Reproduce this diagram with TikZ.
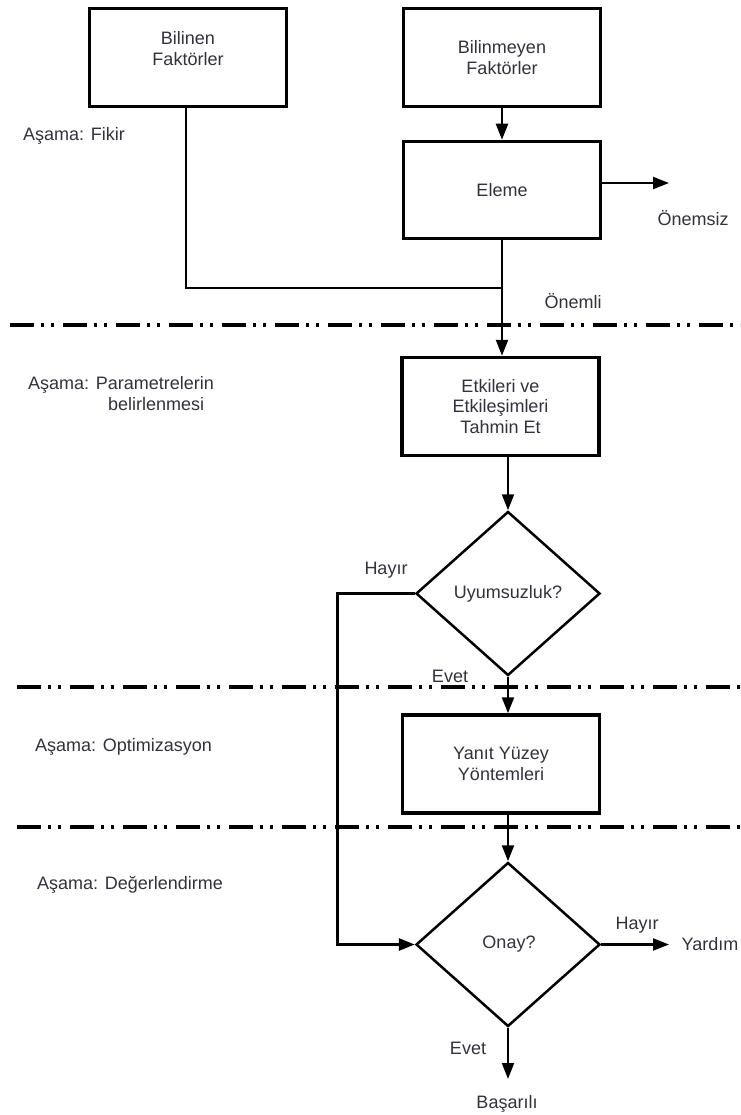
\documentclass[tikz,border=0pt]{standalone}
\usepackage{fontspec}
\setmainfont{Liberation Sans}
\usetikzlibrary{arrows.meta,shapes.geometric}
\definecolor{txtc}{RGB}{50,50,62}
\begin{document}
\begin{tikzpicture}[x=1pt,y=-1pt,
  box/.style={draw,line width=3.5pt,minimum width=197pt,minimum height=98pt,inner sep=0pt,
    text=txtc,font=\fontsize{18}{20.5}\selectfont,align=center},
  dia/.style={draw,diamond,line width=2.5pt,minimum width=184pt,minimum height=164pt,inner sep=0pt},
  txt/.style={text=txtc,font=\fontsize{18}{21}\selectfont,align=center,inner sep=0pt},
  conn/.style={line width=2.2pt},
  arr/.style={conn,-{Triangle[length=16pt,width=12pt]}},
  phase/.style={line width=4pt,dash pattern=on 24pt off 7pt on 3pt off 7pt on 3pt off 9pt}]
\useasboundingbox[fill=white] (0,0) rectangle (740,1115);

% phase separator lines
\draw[phase] (10,325) -- (740,325);
\draw[phase] (17,687) -- (740,687);
\draw[phase] (17,827) -- (740,827);

% boxes
\node[box] (b1) at (188,57.5) {};
\node[txt] (t1) at (188,49) {Bilinen\\Faktörler};
\node[box] (b2) at (502,57.5) {Bilinmeyen\\Faktörler};
\node[box,minimum height=97pt] (el) at (502,190) {Eleme};
\node[box] (b4) at (500.5,406.5) {Etkileri ve\\Etkileşimleri\\Tahmin Et};
\node[box] (b5) at (501,764) {Yanıt Yüzey\\Yöntemleri};

% decisions
\node[dia] (d1) at (508,593.5) {};
\node[txt] (d1t) at (508,593.5) {Uyumsuzluk?};
\node[dia] (d2) at (508,944.5) {};
\node[txt] (d2t) at (509,944.5) {Onay?};

% labels
\node[txt,anchor=west] (pf) at (23,136) {Aşama: Fikir};
\node[txt,anchor=west] (pp1) at (28,385) {Aşama: Parametrelerin};
\node[txt,anchor=west] (pp2) at (108,404) {belirlenmesi};
\node[txt,anchor=west] (po) at (35,747) {Aşama: Optimizasyon};
\node[txt,anchor=west] (pd) at (37,885) {Aşama: Değerlendirme};
\node[txt] (lonemsiz) at (693,218) {Önemsiz};
\node[txt] (lonemli) at (573,301) {Önemli};
\node[txt] (lhayir1) at (386,570) {Hayır};
\node[txt] (levet1) at (450,676) {Evet};
\node[txt] (lhayir2) at (637,925) {Hayır};
\node[txt] (lyardim) at (710,944.5) {Yardım};
\node[txt] (levet2) at (468,1048) {Evet};
\node[txt] (lbasarili) at (507,1104) {Başarılı};

% coordinates
\coordinate (j) at (502,288);
\coordinate (onemsizend) at (669,183);
\coordinate (lp1) at (337,593.5);
\coordinate (lp2) at (337,944.5);
\coordinate (yardimend) at (669,944.5);
\coordinate (basend) at (508,1079);

% connectors
\draw[arr] (b2.south) -- (el.north);
\draw[arr] ([yshift=7pt]el.east) -- (onemsizend);
\draw[conn] (b1.south -| 186,0) |- (j);
\draw[arr] (el.south) -- (el.south |- b4.north);
\draw[arr] (d1.north |- b4.south) -- (d1.north);
\draw[arr] (d1.south) -- (d1.south |- b5.north);
\draw[arr] (d2.north |- b5.south) -- (d2.north);
\draw[arr,line width=3pt] (d1.west) -- (lp1) -- (lp2) -- (d2.west);
\draw[arr] (d2.east) -- (yardimend);
\draw[arr] (d2.south) -- (basend);
\end{tikzpicture}
\end{document}
